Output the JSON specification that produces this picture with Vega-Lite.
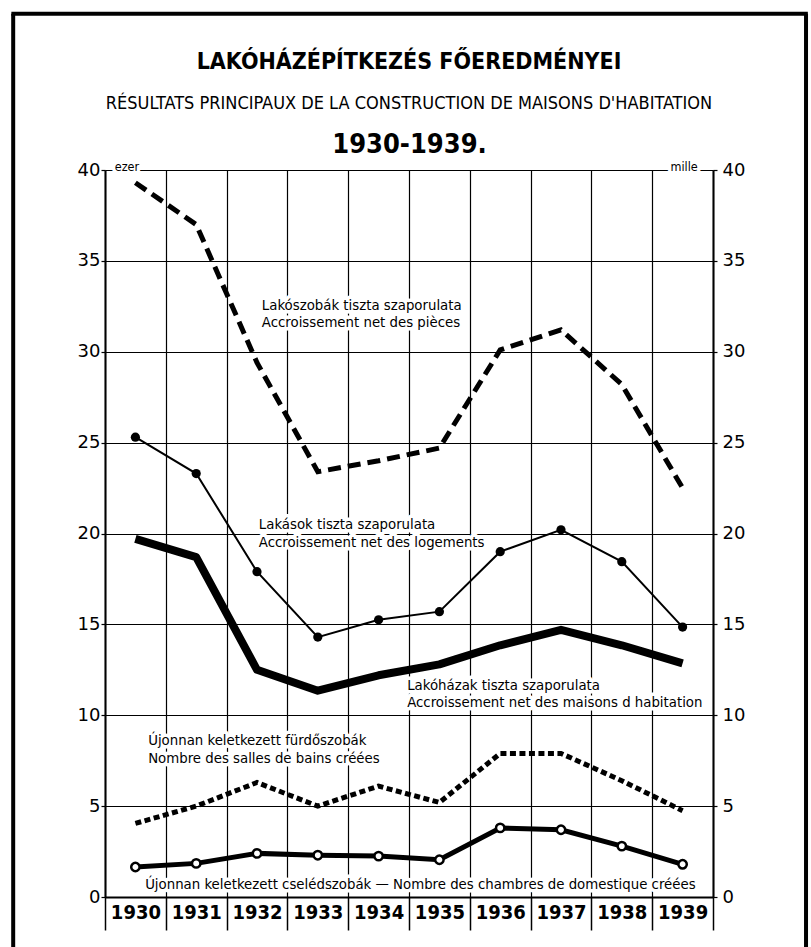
{
  "$schema": "https://vega.github.io/schema/vega-lite/v6.json",
  "width": 608,
  "height": 727,
  "autosize": {"type": "none"},
  "padding": {"left": 105, "top": 170, "right": 98, "bottom": 50},
  "background": "white",
  "config": {"view": {"stroke": null}},
  "title": {
    "text": "LAKÓHÁZÉPÍTKEZÉS FŐEREDMÉNYEI",
    "subtitle": "RÉSULTATS PRINCIPAUX DE LA CONSTRUCTION DE MAISONS D'HABITATION",
    "font": "Liberation Sans Narrow, DejaVu Sans Condensed",
    "fontSize": 23,
    "fontWeight": "bold",
    "subtitleFont": "Liberation Sans Narrow, DejaVu Sans Condensed",
    "subtitleFontSize": 18,
    "subtitleFontWeight": "normal",
    "subtitlePadding": 21,
    "offset": -101,
    "anchor": "middle",
    "color": "black",
    "subtitleColor": "black"
  },
  "datasets": {
    "series": [
      {"series": "Lakószobák", "year": 1930, "value": 39.3},
      {"series": "Lakószobák", "year": 1931, "value": 37.0},
      {"series": "Lakószobák", "year": 1932, "value": 29.4},
      {"series": "Lakószobák", "year": 1933, "value": 23.4},
      {"series": "Lakószobák", "year": 1934, "value": 24.0},
      {"series": "Lakószobák", "year": 1935, "value": 24.7},
      {"series": "Lakószobák", "year": 1936, "value": 30.1},
      {"series": "Lakószobák", "year": 1937, "value": 31.2},
      {"series": "Lakószobák", "year": 1938, "value": 28.2},
      {"series": "Lakószobák", "year": 1939, "value": 22.5},
      {"series": "Lakások", "year": 1930, "value": 25.3},
      {"series": "Lakások", "year": 1931, "value": 23.3},
      {"series": "Lakások", "year": 1932, "value": 17.9},
      {"series": "Lakások", "year": 1933, "value": 14.3},
      {"series": "Lakások", "year": 1934, "value": 15.25},
      {"series": "Lakások", "year": 1935, "value": 15.7},
      {"series": "Lakások", "year": 1936, "value": 19.0},
      {"series": "Lakások", "year": 1937, "value": 20.2},
      {"series": "Lakások", "year": 1938, "value": 18.45},
      {"series": "Lakások", "year": 1939, "value": 14.85},
      {"series": "Lakóházak", "year": 1930, "value": 19.7},
      {"series": "Lakóházak", "year": 1931, "value": 18.7},
      {"series": "Lakóházak", "year": 1932, "value": 12.5},
      {"series": "Lakóházak", "year": 1933, "value": 11.35},
      {"series": "Lakóházak", "year": 1934, "value": 12.2},
      {"series": "Lakóházak", "year": 1935, "value": 12.8},
      {"series": "Lakóházak", "year": 1936, "value": 13.85},
      {"series": "Lakóházak", "year": 1937, "value": 14.7},
      {"series": "Lakóházak", "year": 1938, "value": 13.85},
      {"series": "Lakóházak", "year": 1939, "value": 12.85},
      {"series": "Fürdőszobák", "year": 1930, "value": 4.05},
      {"series": "Fürdőszobák", "year": 1931, "value": 5.0},
      {"series": "Fürdőszobák", "year": 1932, "value": 6.3},
      {"series": "Fürdőszobák", "year": 1933, "value": 5.0},
      {"series": "Fürdőszobák", "year": 1934, "value": 6.1},
      {"series": "Fürdőszobák", "year": 1935, "value": 5.2},
      {"series": "Fürdőszobák", "year": 1936, "value": 7.9},
      {"series": "Fürdőszobák", "year": 1937, "value": 7.9},
      {"series": "Fürdőszobák", "year": 1938, "value": 6.4},
      {"series": "Fürdőszobák", "year": 1939, "value": 4.75},
      {"series": "Cselédszobák", "year": 1930, "value": 1.65},
      {"series": "Cselédszobák", "year": 1931, "value": 1.85},
      {"series": "Cselédszobák", "year": 1932, "value": 2.4},
      {"series": "Cselédszobák", "year": 1933, "value": 2.3},
      {"series": "Cselédszobák", "year": 1934, "value": 2.25},
      {"series": "Cselédszobák", "year": 1935, "value": 2.05},
      {"series": "Cselédszobák", "year": 1936, "value": 3.8},
      {"series": "Cselédszobák", "year": 1937, "value": 3.7},
      {"series": "Cselédszobák", "year": 1938, "value": 2.8},
      {"series": "Cselédszobák", "year": 1939, "value": 1.8}
    ],
    "labels": [
      {"text": "Lakószobák tiszta szaporulata", "x": 1932.08, "y": 32.52},
      {"text": "Accroissement net des pièces", "x": 1932.08, "y": 31.58},
      {"text": "Lakások tiszta szaporulata", "x": 1932.03, "y": 20.47},
      {"text": "Accroissement net des logements", "x": 1932.03, "y": 19.48},
      {"text": "Lakóházak tiszta szaporulata", "x": 1934.47, "y": 11.6},
      {"text": "Accroissement net des maisons d habitation", "x": 1934.47, "y": 10.67},
      {"text": "Újonnan keletkezett fürdőszobák", "x": 1930.21, "y": 8.6},
      {"text": "Nombre des salles de bains créées", "x": 1930.21, "y": 7.6},
      {"text": "Újonnan keletkezett cselédszobák — Nombre des chambres de domestique créées", "x": 1930.16, "y": 0.66}
    ],
    "units": [
      {"text": "ezer", "x": 1929.66, "y": 40.15},
      {"text": "mille", "x": 1938.8, "y": 40.15}
    ]
  },
  "layer": [
    {
      "data": {"values": [{}]},
      "mark": {"type": "rule", "strokeWidth": 4, "color": "black"},
      "encoding": {
        "x": {"datum": 1927.99, "type": "quantitative", "scale": {"domain": [1929.5, 1939.5], "nice": false, "zero": false}, "axis": null},
        "y": {"datum": -3.5, "type": "quantitative", "scale": {"domain": [0, 40], "nice": false, "zero": false}, "axis": null},
        "y2": {"datum": 48.6}
      }
    },
    {
      "data": {"values": [{}]},
      "mark": {"type": "rule", "strokeWidth": 4, "color": "black"},
      "encoding": {
        "x": {"datum": 1941.03, "type": "quantitative", "scale": {"domain": [1929.5, 1939.5], "nice": false, "zero": false}, "axis": null},
        "y": {"datum": -3.5, "type": "quantitative", "scale": {"domain": [0, 40], "nice": false, "zero": false}, "axis": null},
        "y2": {"datum": 48.6}
      }
    },
    {
      "data": {"values": [{}]},
      "mark": {"type": "rule", "strokeWidth": 4, "color": "black"},
      "encoding": {
        "x": {"datum": 1927.96, "type": "quantitative", "scale": {"domain": [1929.5, 1939.5], "nice": false, "zero": false}, "axis": null},
        "x2": {"datum": 1941.06},
        "y": {"datum": 48.6, "type": "quantitative", "scale": {"domain": [0, 40], "nice": false, "zero": false}, "axis": null}
      }
    },
    {
      "data": {"name": "labels"},
      "mark": {"type": "text", "align": "left", "baseline": "middle", "font": "DejaVu Sans Condensed", "fontSize": 14.8, "fill": "white", "stroke": "white", "strokeWidth": 7, "strokeJoin": "round"},
      "encoding": {
        "x": {"field": "x", "type": "quantitative", "scale": {"domain": [1929.5, 1939.5], "nice": false, "zero": false}, "axis": null},
        "y": {"field": "y", "type": "quantitative", "scale": {"domain": [0, 40], "nice": false, "zero": false}, "axis": null},
        "text": {"field": "text"}
      }
    },
    {
      "data": {"name": "units"},
      "mark": {"type": "text", "align": "left", "baseline": "middle", "font": "DejaVu Sans Condensed", "fontSize": 12.5, "fill": "white", "stroke": "white", "strokeWidth": 7, "strokeJoin": "round"},
      "encoding": {
        "x": {"field": "x", "type": "quantitative", "scale": {"domain": [1929.5, 1939.5], "nice": false, "zero": false}, "axis": null},
        "y": {"field": "y", "type": "quantitative", "scale": {"domain": [0, 40], "nice": false, "zero": false}, "axis": null},
        "text": {"field": "text"}
      }
    },
    {
      "data": {"name": "series"},
      "transform": [{"filter": "datum.series === 'Lakószobák'"}],
      "mark": {"type": "line", "strokeWidth": 5, "strokeDash": [13, 7], "color": "black"},
      "encoding": {
        "x": {"field": "year", "type": "quantitative", "scale": {"domain": [1929.5, 1939.5], "nice": false, "zero": false},
          "axis": {"orient": "bottom", "values": [1929.5, 1930.5, 1931.5, 1932.5, 1933.5, 1934.5, 1935.5, 1936.5, 1937.5, 1938.5, 1939.5], "grid": true, "gridColor": "black", "gridWidth": 1.2, "gridOpacity": 1, "ticks": true, "tickSize": 33, "tickColor": "black", "tickWidth": 1.5, "labels": false, "domain": true, "domainColor": "black", "domainWidth": 2, "title": null}},
        "y": {"field": "value", "type": "quantitative", "scale": {"domain": [0, 40], "nice": false, "zero": false},
          "axis": {"orient": "left", "values": [0, 5, 10, 15, 20, 25, 30, 35, 40], "grid": true, "gridColor": "black", "gridWidth": 1.2, "gridOpacity": 1, "ticks": true, "tickSize": 4, "tickColor": "black", "tickWidth": 1.2, "labelFont": "DejaVu Sans", "labelFontSize": 18, "labelColor": "black", "labelPadding": 1, "labelFlush": false, "domain": true, "domainColor": "black", "domainWidth": 2, "title": null}}
      }
    },
    {
      "data": {"name": "series"},
      "transform": [{"filter": "datum.series === 'Lakások'"}],
      "mark": {"type": "line", "strokeWidth": 2, "color": "black", "point": {"filled": true, "size": 85, "color": "black"}},
      "encoding": {
        "x": {"field": "year", "type": "quantitative", "scale": {"domain": [1929.5, 1939.5], "nice": false, "zero": false},
          "axis": {"orient": "bottom", "values": [1930, 1931, 1932, 1933, 1934, 1935, 1936, 1937, 1938, 1939], "format": "d", "grid": false, "ticks": false, "domain": false, "labelFont": "Liberation Sans Narrow, DejaVu Sans Condensed", "labelFontWeight": "bold", "labelFontSize": 20, "labelColor": "black", "labelPadding": 5, "labelFlush": false, "labelOverlap": false, "title": null}},
        "y": {"field": "value", "type": "quantitative", "scale": {"domain": [0, 40], "nice": false, "zero": false},
          "axis": {"orient": "right", "values": [0, 5, 10, 15, 20, 25, 30, 35, 40], "grid": false, "ticks": true, "tickSize": 4, "tickColor": "black", "tickWidth": 1.2, "labelFont": "DejaVu Sans", "labelFontSize": 18, "labelColor": "black", "labelPadding": 5, "labelFlush": false, "domain": true, "domainColor": "black", "domainWidth": 2, "title": null}}
      }
    },
    {
      "data": {"name": "series"},
      "transform": [{"filter": "datum.series === 'Lakóházak'"}],
      "mark": {"type": "line", "strokeWidth": 8, "color": "black", "strokeJoin": "round"},
      "encoding": {
        "x": {"field": "year", "type": "quantitative", "scale": {"domain": [1929.5, 1939.5], "nice": false, "zero": false},
          "axis": {"orient": "top", "labels": false, "ticks": false, "domain": false, "grid": false, "title": "1930-1939.", "titleFont": "Liberation Sans Narrow, DejaVu Sans Condensed", "titleFontSize": 27, "titleFontWeight": "bold", "titleColor": "black", "titlePadding": 12}},
        "y": {"field": "value", "type": "quantitative", "scale": {"domain": [0, 40], "nice": false, "zero": false}, "axis": null}
      }
    },
    {
      "data": {"name": "series"},
      "transform": [{"filter": "datum.series === 'Fürdőszobák'"}],
      "mark": {"type": "line", "strokeWidth": 5, "strokeDash": [6, 3.5], "color": "black"},
      "encoding": {
        "x": {"field": "year", "type": "quantitative", "scale": {"domain": [1929.5, 1939.5], "nice": false, "zero": false}, "axis": null},
        "y": {"field": "value", "type": "quantitative", "scale": {"domain": [0, 40], "nice": false, "zero": false}, "axis": null}
      }
    },
    {
      "data": {"name": "series"},
      "transform": [{"filter": "datum.series === 'Cselédszobák'"}],
      "mark": {"type": "line", "strokeWidth": 5, "color": "black", "point": {"filled": true, "fill": "white", "stroke": "black", "strokeWidth": 2.5, "size": 70}},
      "encoding": {
        "x": {"field": "year", "type": "quantitative", "scale": {"domain": [1929.5, 1939.5], "nice": false, "zero": false}, "axis": null},
        "y": {"field": "value", "type": "quantitative", "scale": {"domain": [0, 40], "nice": false, "zero": false}, "axis": null}
      }
    },
    {
      "data": {"name": "labels"},
      "mark": {"type": "text", "align": "left", "baseline": "middle", "font": "DejaVu Sans Condensed", "fontSize": 14.8, "color": "black"},
      "encoding": {
        "x": {"field": "x", "type": "quantitative", "scale": {"domain": [1929.5, 1939.5], "nice": false, "zero": false}, "axis": null},
        "y": {"field": "y", "type": "quantitative", "scale": {"domain": [0, 40], "nice": false, "zero": false}, "axis": null},
        "text": {"field": "text"}
      }
    },
    {
      "data": {"name": "units"},
      "mark": {"type": "text", "align": "left", "baseline": "middle", "font": "DejaVu Sans Condensed", "fontSize": 12.5, "color": "black"},
      "encoding": {
        "x": {"field": "x", "type": "quantitative", "scale": {"domain": [1929.5, 1939.5], "nice": false, "zero": false}, "axis": null},
        "y": {"field": "y", "type": "quantitative", "scale": {"domain": [0, 40], "nice": false, "zero": false}, "axis": null},
        "text": {"field": "text"}
      }
    }
  ],
  "resolve": {"axis": {"x": "independent", "y": "independent"}, "scale": {"x": "shared", "y": "shared"}}
}
